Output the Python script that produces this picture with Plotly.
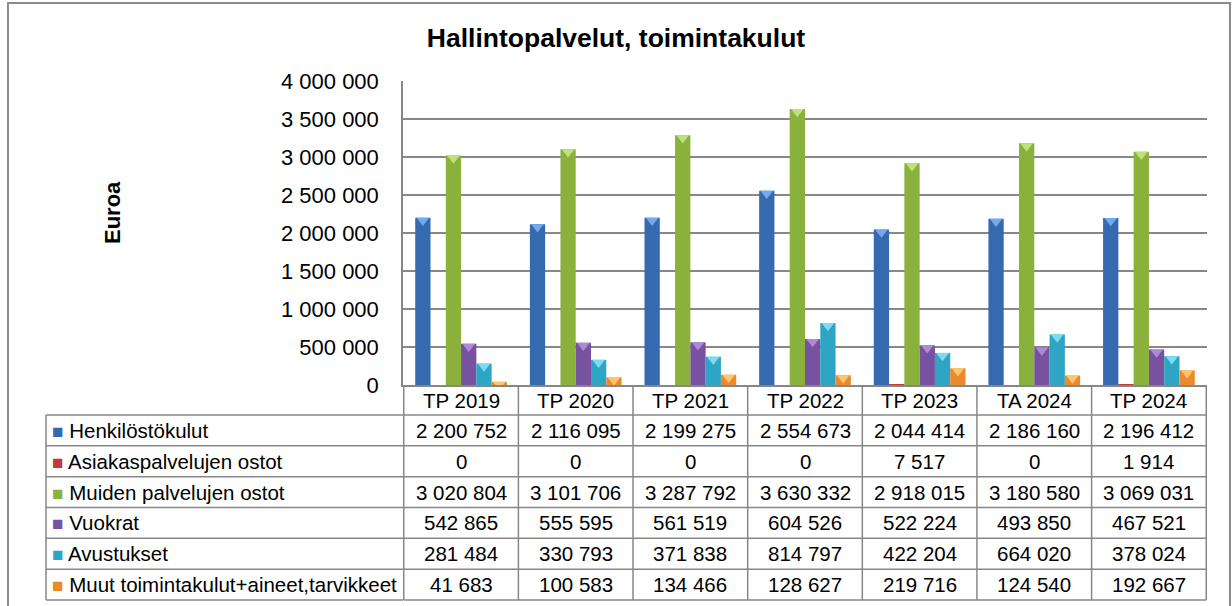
import plotly.graph_objects as go

# ---------------- data ----------------
categories = ["TP 2019", "TP 2020", "TP 2021", "TP 2022", "TP 2023", "TA 2024", "TP 2024"]
series_names = [
    "Henkilöstökulut",
    "Asiakaspalvelujen ostot",
    "Muiden palvelujen ostot",
    "Vuokrat",
    "Avustukset",
    "Muut toimintakulut+aineet,tarvikkeet",
]
henkilosto = [2200752, 2116095, 2199275, 2554673, 2044414, 2186160, 2196412]
asiakaspalvelut = [0, 0, 0, 0, 7517, 0, 1914]
muut_palvelut = [3020804, 3101706, 3287792, 3630332, 2918015, 3180580, 3069031]
vuokrat = [542865, 555595, 561519, 604526, 522224, 493850, 467521]
avustukset = [281484, 330793, 371838, 814797, 422204, 664020, 378024]
muut_kulut = [41683, 100583, 134466, 128627, 219716, 124540, 192667]
series_values = [henkilosto, asiakaspalvelut, muut_palvelut, vuokrat, avustukset, muut_kulut]

colors = ["#3569B0", "#BE3B39", "#8AB13C", "#7652A1", "#2EA5C4", "#EB8A2C"]
cap_colors = ["#74A9EA", "#E07573", "#C0E07A", "#AE8AD6", "#7ADCF0", "#FFC46E"]
cap_opacity = [1, 0, 1, 1, 1, 1]

title_text = "Hallintopalvelut, toimintakulut"
y_title = "Euroa"

# ---------------- geometry helpers ----------------
W, H = 1232, 606
PL, PR, PT, PB = 403, 1207, 81, 385  # plot area in pixels
pw, ph = PR - PL, PB - PT


def px(x):
    return (x - PL) / pw


def py(y):
    return (PB - y) / ph


FONT = "Liberation Sans, Arial, sans-serif"
GRID = "#878787"

fig = go.Figure()
for name, vals, col in zip(series_names, series_values, colors):
    fig.add_trace(go.Bar(x=categories, y=vals, name=name, marker=dict(color=col, line=dict(width=0))))

# light triangular caps on bar tops (Excel bevel look)
CAP = 11
for name, vals, cc, op in zip(series_names, series_values, cap_colors, cap_opacity):
    fig.add_trace(go.Scatter(
        x=categories, y=vals, mode="markers", name=name + " cap", showlegend=False, hoverinfo="skip",
        opacity=op,
        marker=dict(symbol="triangle-down", size=CAP, color=cc, line=dict(width=0), standoff=CAP / 4),
    ))

fig.update_layout(
    width=W,
    height=H,
    autosize=False,
    margin=dict(l=PL, r=W - PR, t=PT, b=H - PB, pad=0),
    paper_bgcolor="white",
    plot_bgcolor="white",
    barmode="group",
    bargap=0.2,
    bargroupgap=0,
    scattermode="group",
    scattergap=0.2,
    showlegend=False,
    separators=", ",
    font=dict(family=FONT, color="#000000"),
    title=dict(
        text="<b>" + title_text + "</b>",
        x=0.5,
        xref="container",
        xanchor="center",
        y=1 - 38 / H,
        yref="container",
        yanchor="middle",
        font=dict(size=26.5, family=FONT, color="#000000"),
    ),
)

fig.update_yaxes(
    range=[0, 4000000],
    dtick=500000,
    tickformat=",d",
    showgrid=True,
    gridcolor=GRID,
    gridwidth=1.5,
    showline=True,
    linecolor=GRID,
    linewidth=1.5,
    zeroline=False,
    ticks="",
    ticklabelstandoff=18,
    tickfont=dict(size=22, family=FONT, color="#000000"),
)
fig.update_xaxes(
    type="category",
    showticklabels=False,
    showgrid=False,
    zeroline=False,
    showline=True,
    linecolor=GRID,
    linewidth=1.5,
    ticks="",
)

# y-axis title
fig.add_annotation(
    text="<b>" + y_title + "</b>", textangle=-90, xref="paper", yref="paper",
    x=px(112), y=py(213), xanchor="center", yanchor="middle", showarrow=False,
    font=dict(size=22, family=FONT, color="#000000"),
)

# ---------------- data table ----------------
HEAD_TOP, HEAD_BOT, TABLE_BOT = 385, 415, 600
TABLE_LEFT = 46
nrows = len(series_names)
row_h = (TABLE_BOT - HEAD_BOT) / nrows
line_style = dict(color=GRID, width=1.5)
ncat = len(categories)

# horizontal lines (legend column part and category part)
for i in range(nrows + 1):
    yy = py(HEAD_BOT + i * row_h)
    fig.add_shape(type="line", xref="paper", yref="paper", x0=px(TABLE_LEFT), x1=0,
                  y0=yy, y1=yy, line=line_style, layer="above")
    fig.add_shape(type="line", xref="x", yref="paper", x0=-0.5, x1=ncat - 0.5,
                  y0=yy, y1=yy, line=line_style, layer="above")
# vertical lines
fig.add_shape(type="line", xref="paper", yref="paper", x0=px(TABLE_LEFT), x1=px(TABLE_LEFT),
              y0=py(HEAD_BOT), y1=py(TABLE_BOT), line=line_style)
for k in range(ncat + 1):
    fig.add_shape(type="line", xref="x", yref="paper", x0=k - 0.5, x1=k - 0.5,
                  y0=py(HEAD_TOP), y1=py(TABLE_BOT), line=line_style)

# header texts
for c in categories:
    fig.add_annotation(text=c, xref="x", yref="paper", x=c, y=py((HEAD_TOP + HEAD_BOT) / 2),
                       xanchor="center", yanchor="middle", showarrow=False,
                       font=dict(size=20.5, family=FONT, color="#000000"))


def fmt(v):
    return f"{v:,}".replace(",", " ")


for i, (name, vals, col) in enumerate(zip(series_names, series_values, colors)):
    yc = py(HEAD_BOT + (i + 0.5) * row_h)
    fig.add_annotation(
        text=f"<span style='color:{col};font-size:19px'>■</span> {name}",
        xref="paper", yref="paper", x=px(50), y=yc, xanchor="left", yanchor="middle", showarrow=False,
        font=dict(size=20.5, family=FONT, color="#000000"),
    )
    for c, v in zip(categories, vals):
        fig.add_annotation(text=fmt(v), xref="x", yref="paper", x=c, y=yc,
                           xanchor="center", yanchor="middle", showarrow=False,
                           font=dict(size=20.5, family=FONT, color="#000000"))

# outer chart border
fig.add_shape(type="rect", xref="paper", yref="paper", x0=px(8), x1=px(1230), y0=py(3), y1=py(660),
              line=dict(color="#8C8C8C", width=2), fillcolor="rgba(0,0,0,0)")

fig.write_html(
    "out.html",
    config={"displayModeBar": False},
    post_script="document.body.style.margin='0';document.body.style.overflow='hidden';",
)
